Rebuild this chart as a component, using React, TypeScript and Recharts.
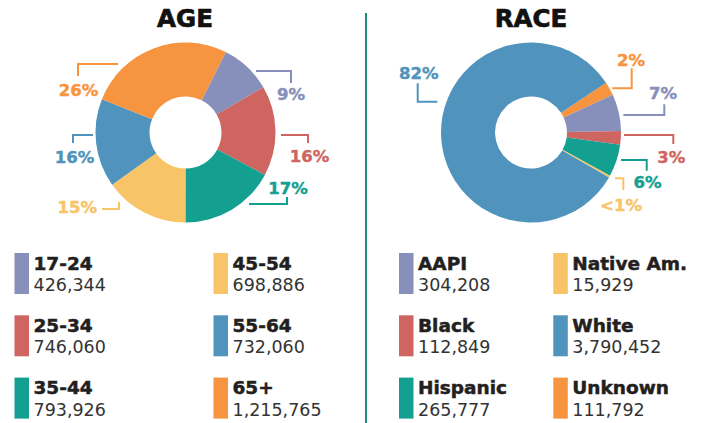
import React from 'react';
import { PieChart, Pie, Cell } from 'recharts';

// ---------- DATA ----------
const ageCategories = ['17-24', '25-34', '35-44', '45-54', '55-64', '65+'];
const ageValues = [426344, 746060, 793926, 698886, 732060, 1215765];
const agePctLabels = ['9%', '16%', '17%', '15%', '16%', '26%'];

const raceCategories = ['Unknown', 'AAPI', 'Black', 'Hispanic', 'Native Am.', 'White'];
const raceValues = [111792, 304208, 112849, 265777, 15929, 3790452];
const racePctLabels = ['2%', '7%', '3%', '6%', '<1%', '82%'];

// ---------- STYLE / LAYOUT ----------
const ageColors = ['#8790BA', '#CF6561', '#14A090', '#F8C468', '#5093BC', '#F79440'];
const raceColors = ['#F79440', '#8790BA', '#CF6561', '#14A090', '#F8C468', '#5093BC'];

const FONT = '"DejaVu Sans", "Open Sans", sans-serif';

type LabelLayout = { line: [number, number][]; text: [number, number]; anchor?: 'start' | 'middle' | 'end' };

// leader-line elbows, relative to the pie centre
const ageLabelLayout: LabelLayout[] = [
  { line: [[70.5, -61.5], [105.5, -61.5], [105.5, -49.5]], text: [105.5, -38.5] },
  { line: [[95.5, 2.5], [122.5, 2.5], [122.5, 10.5]], text: [124, 23] },
  { line: [[63.5, 71.5], [101.5, 71.5], [101.5, 64.5]], text: [102.5, 55] },
  { line: [[-66.5, 69.5], [-66.5, 76.5], [-83.5, 76.5]], text: [-88.5, 74], anchor: 'end' },
  { line: [[-92.5, 2.5], [-112.5, 2.5], [-112.5, 10.5]], text: [-111, 24.5] },
  { line: [[-67.5, -68.5], [-107.5, -68.5], [-107.5, -56.5]], text: [-107, -43] },
];

const raceLabelLayout: LabelLayout[] = [
  { line: [[81.3, -44.2], [100.7, -44.2], [100.7, -64.2]], text: [100, -72.5] },
  { line: [[92.3, -17.5], [133.3, -17.5], [133.3, -28.2]], text: [132, -39.5] },
  { line: [[93, 2.5], [142.3, 2.5], [142.3, 11.5]], text: [140.3, 23.8] },
  { line: [[90, 27.5], [115.7, 27.5], [115.7, 38.2]], text: [116.5, 49.5] },
  { line: [[84, 45.8], [92.3, 45.8], [92.3, 57.5]], text: [90, 72.5] },
  { line: [[-93.7, -30.8], [-113.3, -30.8], [-113.3, -49.2]], text: [-112.3, -59.7] },
];

const makeLabel = (layout: LabelLayout[], pcts: string[], colors: string[]) => (props: any) => {
  const { cx, cy, index } = props;
  const l = layout[index];
  const pts = l.line.map(([dx, dy]) => `${cx + dx},${cy + dy}`).join(' ');
  return (
    <g key={`lbl-${index}`}>
      <polyline points={pts} fill="none" stroke={colors[index]} strokeWidth={2} />
      <text
        x={cx + l.text[0]}
        y={cy + l.text[1] + 6.2}
        textAnchor={l.anchor || 'middle'}
        fill={colors[index]}
        stroke={colors[index]}
        strokeWidth={0.4}
        fontSize={16.5}
        fontWeight={700}
        fontFamily={FONT}
      >
        {pcts[index]}
      </text>
    </g>
  );
};

const ageData = ageCategories.map((name, i) => ({ name, value: ageValues[i] }));
const raceData = raceCategories.map((name, i) => ({ name, value: raceValues[i] }));

// legend columns (indices into each data set)
const ageLegendCols = [[0, 1, 2], [3, 4, 5]];
const raceLegendCols = [[1, 2, 3], [4, 5, 0]];

const LegendBlock = ({
  cols, colXs, names, values, colors,
}: { cols: number[][]; colXs: number[]; names: string[]; values: number[]; colors: string[] }) => (
  <g>
    {cols.map((col, ci) =>
      col.map((idx, ri) => {
        const x = colXs[ci];
        const top = 253 + ri * 62.3;
        return (
          <g key={`${ci}-${ri}`}>
            <rect x={x} y={top} width={14.5} height={41} fill={colors[idx]} />
            <text
              x={x + 19}
              y={top + 16.5}
              fontSize={18.5}
              fontWeight={700}
              fill="#231F20"
              stroke="#231F20"
              strokeWidth={0.5}
              fontFamily={FONT}
            >
              {names[idx]}
            </text>
            <text x={x + 19} y={top + 38} fontSize={17.5} fontWeight={400} fill="#333333" fontFamily={FONT}>
              {values[idx].toLocaleString('en-US')}
            </text>
          </g>
        );
      })
    )}
  </g>
);

export default function App() {
  return (
    <div style={{ position: 'absolute', left: 0, top: 0, width: 711, height: 423, background: '#fff' }}>
      <div style={{ position: 'absolute', left: 0, top: 0 }}>
        <PieChart width={711} height={423} margin={{ top: 0, right: 0, bottom: 0, left: 0 }}>
          <Pie
            data={ageData}
            dataKey="value"
            nameKey="name"
            cx={185.5}
            cy={132.5}
            innerRadius={36}
            outerRadius={90}
            startAngle={63.4}
            endAngle={-296.6}
            stroke="none"
            labelLine={false}
            label={makeLabel(ageLabelLayout, agePctLabels, ageColors)}
            isAnimationActive={false}
          >
            {ageData.map((d, i) => (
              <Cell key={d.name} fill={ageColors[i]} stroke="none" />
            ))}
          </Pie>
          <Pie
            data={raceData}
            dataKey="value"
            nameKey="name"
            cx={531}
            cy={132.5}
            innerRadius={36}
            outerRadius={90}
            startAngle={33.5}
            endAngle={-326.5}
            stroke="none"
            labelLine={false}
            label={makeLabel(raceLabelLayout, racePctLabels, raceColors)}
            isAnimationActive={false}
          >
            {raceData.map((d, i) => (
              <Cell key={d.name} fill={raceColors[i]} stroke="none" />
            ))}
          </Pie>
        </PieChart>
      </div>
      <svg
        width={711}
        height={423}
        style={{ position: 'absolute', left: 0, top: 0, pointerEvents: 'none' }}
      >
        <text x={185} y={26.7} textAnchor="middle" fontSize={24.5} fontWeight={700} fill="#111" stroke="#111" strokeWidth={0.7} fontFamily={FONT}>
          AGE
        </text>
        <text x={531} y={26.7} textAnchor="middle" fontSize={24.5} fontWeight={700} fill="#111" stroke="#111" strokeWidth={0.7} fontFamily={FONT}>
          RACE
        </text>
        <line x1={366} y1={13} x2={366} y2={423} stroke="#1E8C7E" strokeWidth={2} />
        <LegendBlock cols={ageLegendCols} colXs={[14.5, 213.5]} names={ageCategories} values={ageValues} colors={ageColors} />
        <LegendBlock cols={raceLegendCols} colXs={[399, 553.3]} names={raceCategories} values={raceValues} colors={raceColors} />
      </svg>
    </div>
  );
}
